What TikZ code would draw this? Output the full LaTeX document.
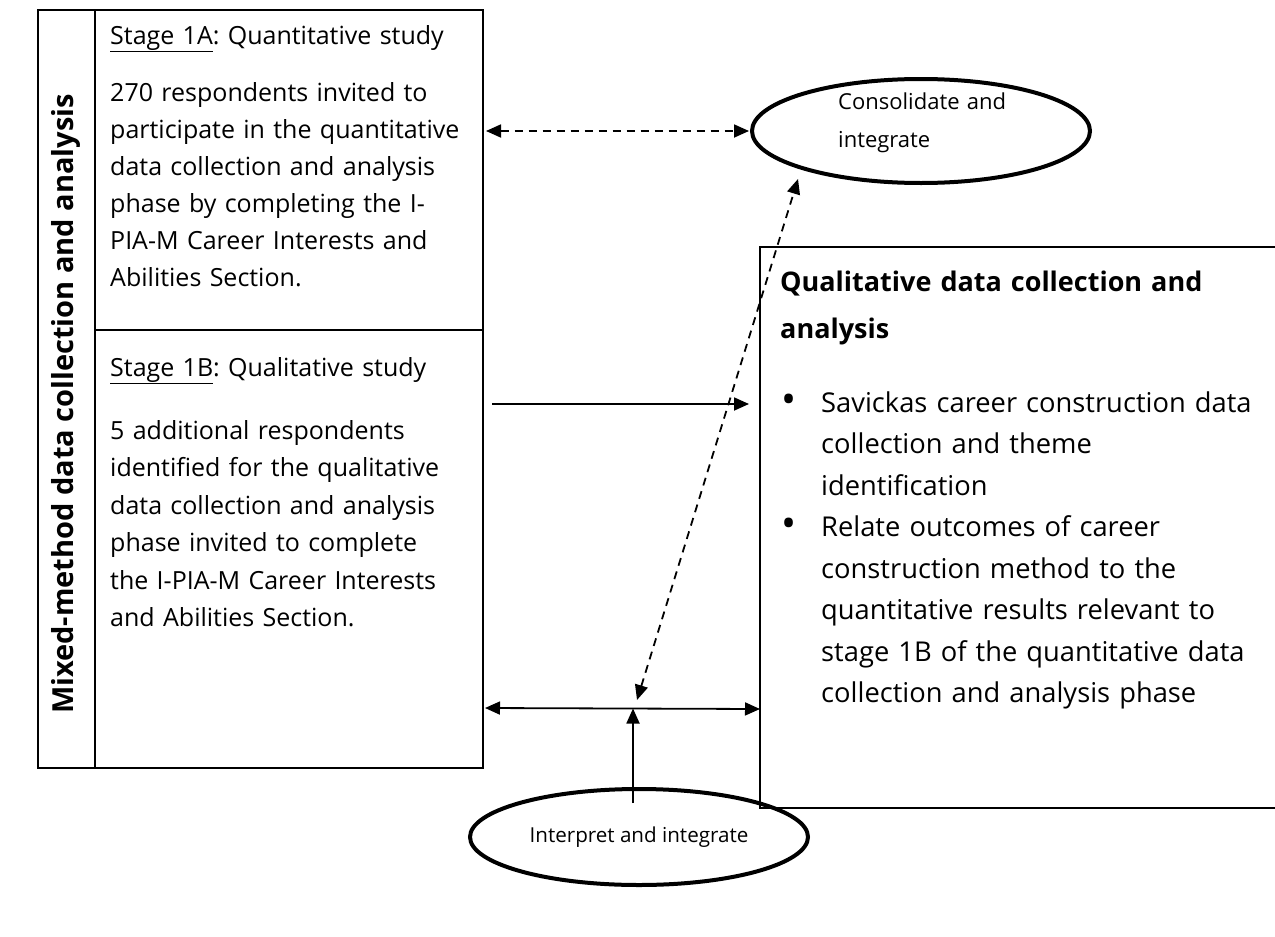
\documentclass[tikz,border=0pt]{standalone}
\usepackage{fontspec}
\setmainfont{Open Sans}
\usetikzlibrary{shapes.geometric,arrows.meta}
\frenchspacing
\begin{document}
\begin{tikzpicture}[x=1pt,y=-1pt,
  boxline/.style={line width=2.2pt},
  txt/.style={anchor=base west,inner sep=0pt,align=left,text width=#1},
  txt/.default=380pt,
  bigoval/.style={ellipse,draw,line width=4pt,inner sep=0pt},
  tip/.style={-{Triangle[length=15pt,width=13pt]}},
  dtip/.style={{Triangle[length=15pt,width=13pt]}-{Triangle[length=15pt,width=13pt]}},
  conn/.style={line width=1.8pt},
  dconn/.style={line width=1.8pt,dash pattern=on 8pt off 6pt}]
\useasboundingbox (0,0) rectangle (1275,937);
% left box
\coordinate (lbnw) at (38,10);
\coordinate (lbse) at (483,768);
\draw[boxline] (lbnw) rectangle (lbse);
\draw[boxline] (95,10) -- (95,768);
\draw[boxline] (95,330) -- (483,330);
\node[rotate=90,inner sep=0pt,font=\bfseries\fontsize{29}{32}\selectfont] (mixed) at (66,404) {Mixed-method data collection and analysis};
% stage 1A
\node[txt,font=\fontsize{25}{37}\selectfont] (s1at) at (110,44) {\underline{Stage 1A}: Quantitative study};
\node[txt,font=\fontsize{25}{37}\selectfont] (s1ab) at (110,101) {270 respondents invited to\\participate in the quantitative\\data collection and analysis\\phase by completing the I-\\PIA-M Career Interests and\\Abilities Section.};
% stage 1B
\node[txt,font=\fontsize{25}{37.5}\selectfont] (s1bt) at (110,376) {\underline{Stage 1B}: Qualitative study};
\node[txt,font=\fontsize{25}{37.5}\selectfont] (s1bb) at (110,439) {5 additional respondents\\identified for the qualitative\\data collection and analysis\\phase invited to complete\\the I-PIA-M Career Interests\\and Abilities Section.};
% right box
\coordinate (rbnw) at (760,247);
\coordinate (rbne) at (1276,247);
\coordinate (rbsw) at (760,808);
\coordinate (rbse) at (1276,808);
\draw[line width=2pt] (rbne) -- (rbnw) -- (rbsw) -- (rbse);
\node[txt=480pt,font=\bfseries\fontsize{27}{47}\selectfont] (qhead) at (780,291) {Qualitative data collection and\\analysis};
\newcommand{\bul}{\makebox[40pt][l]{\raisebox{-1pt}{\fontsize{40}{40}\selectfont •}}}
\node[txt=490pt,font=\fontsize{27.3}{41.5}\selectfont] (qbul) at (781,412) {\bul Savickas career construction data\\\hspace*{40pt}collection and theme\\\hspace*{40pt}identification\\\bul Relate outcomes of career\\\hspace*{40pt}construction method to the\\\hspace*{40pt}quantitative results relevant to\\\hspace*{40pt}stage 1B of the quantitative data\\\hspace*{40pt}collection and analysis phase};
% ellipses
\node[bigoval,minimum width=338pt,minimum height=104pt] (cons) at (921,131) {};
\node[txt=220pt,font=\fontsize{22}{38}\selectfont] (constxt) at (838,109) {Consolidate and\\integrate};
\node[bigoval,minimum width=338pt,minimum height=96pt,font=\fontsize{20.6}{24}\selectfont] (interp) at (639,837) {Interpret and integrate};
% connectors
\coordinate (a1) at (486,131);
\coordinate (a2) at (749,131);
\draw[dconn,dtip] (a1) -- (a2);
\coordinate (b1) at (492,404);
\coordinate (b2) at (749,404);
\draw[conn,tip] (b1) -- (b2);
\coordinate (c1) at (485,708);
\coordinate (c2) at (760,709);
\coordinate (cm) at (633,708.5);
\draw[conn,dtip] (c1) -- (c2);
\coordinate (d1) at (633,803);
\draw[conn,tip] (d1) -- (cm);
\coordinate (e1) at (637,700);
\coordinate (e2) at (798,179);
\draw[dconn,dtip] (e1) -- (e2);
\end{tikzpicture}
\end{document}
